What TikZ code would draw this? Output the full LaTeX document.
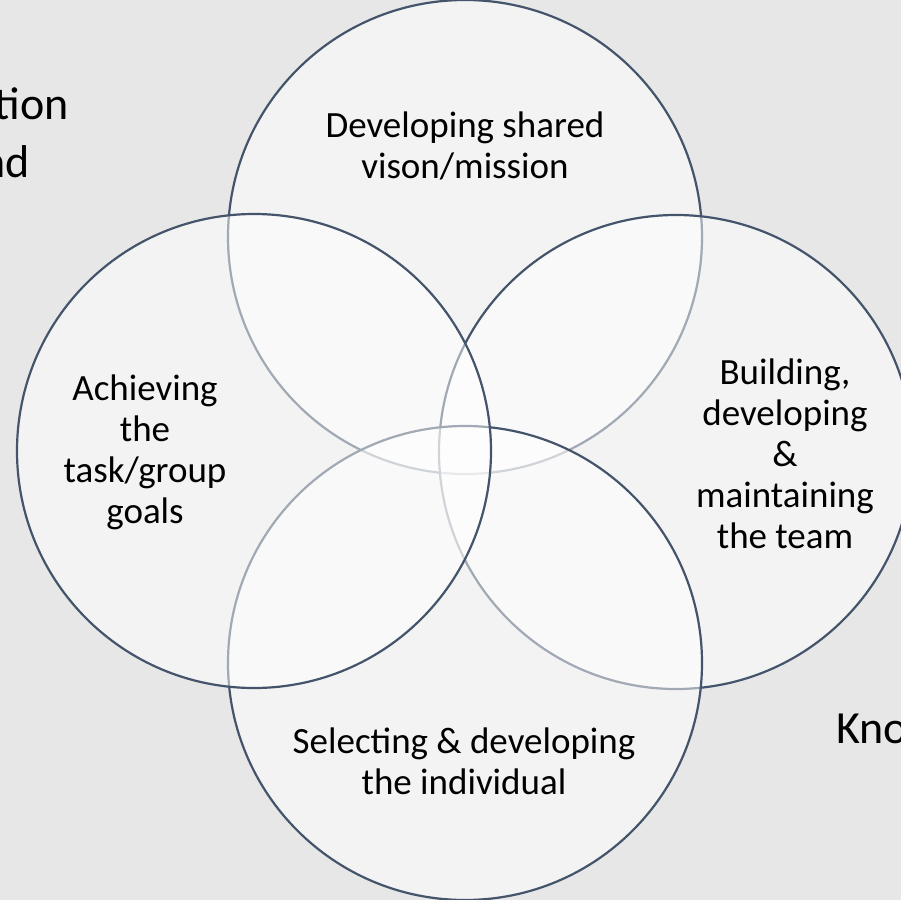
\documentclass[tikz,border=0pt]{standalone}
\usepackage{fontspec}
\setmainfont{Carlito}
\usetikzlibrary{positioning}

\definecolor{slate}{HTML}{44546A}
\definecolor{paper}{HTML}{E7E7E7}

\begin{document}
\begin{tikzpicture}[x=0.5pt, y=-0.5pt,
    ring/.style={circle, draw=slate, line width=1.1pt,
                 fill=white, fill opacity=0.5, draw opacity=1,
                 minimum size=237pt, inner sep=0pt, outer sep=0pt},
    every node/.style={font=\fontsize{18.5}{20.5}\selectfont, text=black},
    label text/.style={align=center, inner sep=0pt},
    edge text/.style={font=\fontsize{23}{28}\selectfont, inner sep=0pt}]
   \useasboundingbox (0,0) rectangle (901,900);
   \clip (0,0) rectangle (901,900);
   \fill[paper] (0,0) rectangle (901,900);

   % the four circles, drawn back to front
   \node[ring] (vision) at (465,237) {};
   \node[ring] (team)   at (676,452) {};
   \node[ring] (indiv)  at (465,663) {};
   \node[ring] (task)   at (254,451) {};

   % circle texts
   \node[label text] (visiontext) at (465,146) {Developing shared\\vison/mission};
   \node[label text] (tasktext)   at (145,452) {Achieving\\the\\task/group\\goals};
   \node[label text] (teamtext)   at (785,454) {Building,\\developing\\\&\\maintaining\\the team};
   \node[label text] (indivtext)  at (464,761) {Selecting \& developing\\the individual};

   % text running off the edges
   \node[edge text, anchor=base east] (edgeA) at (69,119) {tion};
   \node[edge text, anchor=base east] (edgeB) at (30,177) {nd};
   \node[edge text, anchor=base west] (edgeC) at (836,743) {Kno};
\end{tikzpicture}
\end{document}
